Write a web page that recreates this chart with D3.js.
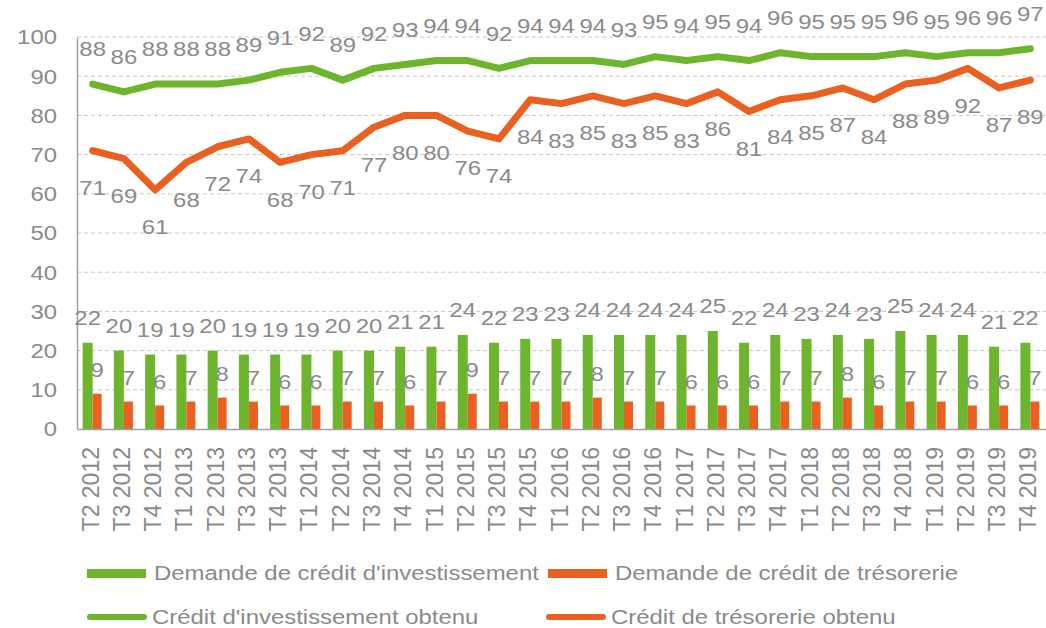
<!DOCTYPE html>
<html><head><meta charset="utf-8">
<script src="https://cdn.jsdelivr.net/npm/d3@7"></script>
<style>
html,body{margin:0;padding:0;background:#fff;}
text{font-family:"Liberation Sans",Arial,sans-serif;fill:#8a8a8a;}
</style></head>
<body><svg id="chart" width="1046" height="628"></svg>
<script>
const categories = ["T2 2012","T3 2012","T4 2012","T1 2013","T2 2013","T3 2013","T4 2013","T1 2014","T2 2014","T3 2014","T4 2014","T1 2015","T2 2015","T3 2015","T4 2015","T1 2016","T2 2016","T3 2016","T4 2016","T1 2017","T2 2017","T3 2017","T4 2017","T1 2018","T2 2018","T3 2018","T4 2018","T1 2019","T2 2019","T3 2019","T4 2019"];
const demandeInvest = [22,20,19,19,20,19,19,19,20,20,21,21,24,22,23,23,24,24,24,24,25,22,24,23,24,23,25,24,24,21,22];
const demandeTreso = [9,7,6,7,8,7,6,6,7,7,6,7,9,7,7,7,8,7,7,6,6,6,7,7,8,6,7,7,6,6,7];
const obtenuInvest = [88,86,88,88,88,89,91,92,89,92,93,94,94,92,94,94,94,93,95,94,95,94,96,95,95,95,96,95,96,96,97];
const obtenuTreso = [71,69,61,68,72,74,68,70,71,77,80,80,76,74,84,83,85,83,85,83,86,81,84,85,87,84,88,89,92,87,89];
const yTicks = [0,10,20,30,40,50,60,70,80,90,100];
const seriesNames = ["Demande de crédit d'investissement","Demande de crédit de trésorerie","Crédit d'investissement obtenu","Crédit de trésorerie obtenu"];

const GREEN = "#6cb52d", ORANGE = "#ea6020", GRAY = "#8a8a8a";
const svg = d3.select("#chart");
const mLeft = 77, mRight = 1046, mTop = 37, mBottom = 429;
const x = d3.scaleBand().domain(categories).range([mLeft, mRight]).padding(0);
const y = d3.scaleLinear().domain([0,100]).range([mBottom, mTop]);
const fs = 21, SX = 1.14;

function stext(g, tx, ty, str, anchor, size) {
  return g.append("text")
    .attr("transform", `translate(${tx},${ty}) scale(${SX},1)`)
    .attr("text-anchor", anchor).attr("dy", "0.35em")
    .style("font-size", (size||fs) + "px").text(str);
}

// gridlines
svg.append("g").selectAll("line").data(yTicks.filter(d=>d>0)).join("line")
  .attr("x1", mLeft).attr("x2", mRight).attr("y1", d=>y(d)).attr("y2", d=>y(d))
  .attr("stroke", "#c8c8c8").attr("stroke-width", 1).attr("stroke-dasharray", "4,3");

// y axis
const yAxis = svg.append("g").attr("transform", `translate(${mLeft},0)`)
  .call(d3.axisLeft(y).tickValues(yTicks).tickSize(0).tickFormat(""));
yAxis.select(".domain").attr("stroke", "#a0a0a0").attr("stroke-width", 1.5);
const yl = svg.append("g");
yTicks.forEach(t => stext(yl, 57, y(t), String(t), "end"));

// bars
const bw1 = 10, bw2 = 9;
const cx = d => x(d) + x.bandwidth()/2;
svg.append("g").selectAll("rect").data(categories).join("rect")
  .attr("x", (d)=>cx(d) - bw1).attr("width", bw1)
  .attr("y", (d,i)=>y(demandeInvest[i])).attr("height", (d,i)=>y(0)-y(demandeInvest[i]))
  .attr("fill", GREEN);
svg.append("g").selectAll("rect").data(categories).join("rect")
  .attr("x", (d)=>cx(d)).attr("width", bw2)
  .attr("y", (d,i)=>y(demandeTreso[i])).attr("height", (d,i)=>y(0)-y(demandeTreso[i]))
  .attr("fill", ORANGE);

// x axis
const xAxis = svg.append("g").attr("transform", `translate(0,${mBottom})`)
  .call(d3.axisBottom(x).tickSize(0).tickPadding(0));
xAxis.select(".domain").attr("stroke", "#a0a0a0").attr("stroke-width", 1.5);
xAxis.selectAll("text").style("font-size", "23px").attr("fill", GRAY)
  .style("font-family", '"Liberation Sans",Arial,sans-serif')
  .attr("transform", "rotate(-90)").attr("text-anchor", "end")
  .attr("x", -18).attr("y", -2).attr("dy", "0.35em").attr("dx", 0);

// lines
const line = d3.line().x((d,i)=>cx(categories[i])).y(d=>y(d));
svg.append("path").datum(obtenuInvest).attr("d", line).attr("fill","none")
  .attr("stroke", GREEN).attr("stroke-width", 7).attr("stroke-linejoin","round").attr("stroke-linecap","round");
svg.append("path").datum(obtenuTreso).attr("d", line).attr("fill","none")
  .attr("stroke", ORANGE).attr("stroke-width", 7).attr("stroke-linejoin","round").attr("stroke-linecap","round");

// labels
const lab = svg.append("g");
obtenuInvest.forEach((d,i)=>stext(lab, cx(categories[i]), y(d)-35, d, "middle"));
obtenuTreso.forEach((d,i)=>stext(lab, cx(categories[i]), y(d)+37, d, "middle"));
demandeInvest.forEach((d,i)=>stext(lab, cx(categories[i]) - bw1/2, y(d)-25, d, "middle"));
demandeTreso.forEach((d,i)=>stext(lab, cx(categories[i]) + bw2/2, y(d)-24, d, "middle"));

// legend
const leg = svg.append("g");
const items = [
  {name: seriesNames[0], color: GREEN, type:"rect", x:87, y:573},
  {name: seriesNames[1], color: ORANGE, type:"rect", x:548, y:573},
  {name: seriesNames[2], color: GREEN, type:"line", x:87, y:617},
  {name: seriesNames[3], color: ORANGE, type:"line", x:546, y:617}
];
items.forEach(it=>{
  if(it.type==="rect"){
    leg.append("rect").attr("x", it.x).attr("y", it.y-4).attr("width", 59).attr("height", 9).attr("fill", it.color);
    stext(leg, it.x+67, it.y, it.name, "start");
  } else {
    leg.append("line").attr("x1", it.x+3).attr("x2", it.x+57).attr("y1", it.y).attr("y2", it.y)
      .attr("stroke", it.color).attr("stroke-width", 6).attr("stroke-linecap","round");
    stext(leg, it.x+65, it.y, it.name, "start");
  }
});
</script></body></html>
